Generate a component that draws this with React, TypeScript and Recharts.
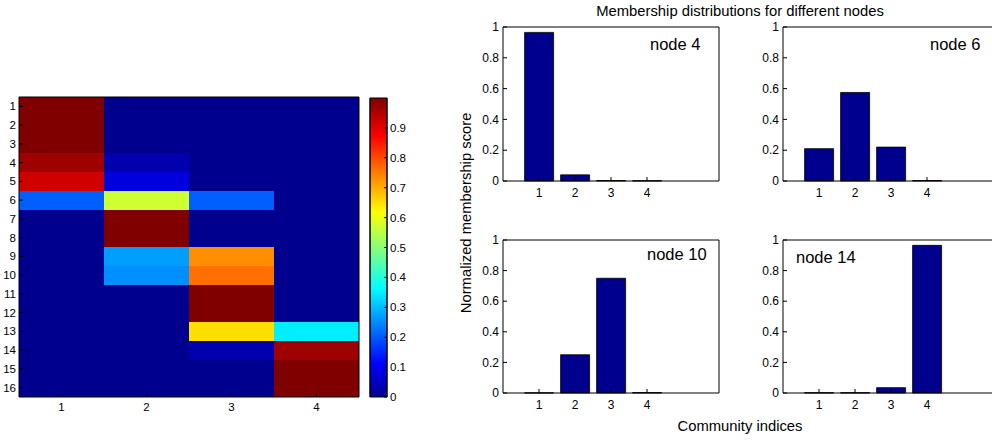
import React from "react";
import { Bar, BarChart, Cell, XAxis, YAxis } from "recharts";

const FONT = '"Liberation Sans", Arial, Helvetica, sans-serif';

// heatmap: rows = nodes, columns = communities
const communities = [1, 2, 3, 4];
const nodes = [1, 2, 3, 4, 5, 6, 7, 8, 9, 10, 11, 12, 13, 14, 15, 16];
const membership = [
  [1, 0, 0, 0],
  [1, 0, 0, 0],
  [1, 0, 0, 0],
  [0.96, 0.04, 0, 0],
  [0.92, 0.08, 0, 0],
  [0.21, 0.575, 0.215, 0],
  [0, 1, 0, 0],
  [0, 1, 0, 0],
  [0, 0.27, 0.73, 0],
  [0, 0.25, 0.75, 0],
  [0, 0, 1, 0],
  [0, 0, 1, 0],
  [0, 0, 0.65, 0.35],
  [0, 0, 0.04, 0.96],
  [0, 0, 0, 1],
  [0, 0, 0, 1],
];
const colorbarRange = [0, 1];
const colorbarTicks = [0, 0.1, 0.2, 0.3, 0.4, 0.5, 0.6, 0.7, 0.8, 0.9];

// bar panels
const node4 = [0.965, 0.04, 0.003, 0.002];
const node6 = [0.21, 0.575, 0.22, 0.003];
const node10 = [0.001, 0.25, 0.75, 0.003];
const node14 = [0.002, 0.002, 0.035, 0.965];
const scoreTicks = [0, 0.2, 0.4, 0.6, 0.8, 1];
const communityDomain = [0, 6];

// matlab jet, 64 levels
function jet(v: number) {
  const k = Math.min(63, Math.max(0, Math.floor(v * 64)));
  const t = (k + 1) / 64;
  const c = (x: number) => Math.round(Math.max(0, Math.min(1, x)) * 255);
  return `rgb(${c(1.5 - Math.abs(4 * t - 3))},${c(1.5 - Math.abs(4 * t - 2))},${c(1.5 - Math.abs(4 * t - 1))})`;
}

const fmt = (v: number) => String(v);

// ticks point inward, like matlab's box
const leftTick = (margin: number, len: number, fontSize: number, label: (v: number) => string) => (p: any) => (
  <g>
    <line x1={p.x + margin} x2={p.x + margin + len} y1={p.y} y2={p.y} stroke="#000" />
    <text x={p.x} y={p.y} dy="0.35em" textAnchor="end" fontSize={fontSize} fill="#000" fontFamily={FONT}>
      {label(p.payload.value)}
    </text>
  </g>
);

const bottomTick = (margin: number, len: number, fontSize: number) => (p: any) => (
  <g>
    <line x1={p.x} x2={p.x} y1={p.y - margin} y2={p.y - margin - len} stroke="#000" />
    <text x={p.x} y={p.y + fontSize * 0.9} textAnchor="middle" fontSize={fontSize} fill="#000" fontFamily={FONT}>
      {p.payload.value}
    </text>
  </g>
);

const rightTick = (margin: number, len: number, fontSize: number) => (p: any) => (
  <g>
    <line x1={p.x - margin} x2={p.x - margin - len} y1={p.y} y2={p.y} stroke="#000" />
    <text x={p.x} y={p.y} dy="0.35em" textAnchor="start" fontSize={fontSize} fill="#000" fontFamily={FONT}>
      {fmt(p.payload.value)}
    </text>
  </g>
);

function Heatmap() {
  const data = communities.map((c) => {
    const row: Record<string, number> = { col: c };
    nodes.forEach((n) => {
      row[`n${n}`] = 1;
    });
    return row;
  });
  const rowTicks = nodes.map((n) => n - 0.5);
  return (
    <div style={{ position: "absolute", left: 0, top: 90 }}>
      <BarChart
        width={370}
        height={330}
        data={data}
        margin={{ top: 7, right: 11, bottom: 3, left: 0 }}
        barCategoryGap={0}
        barGap={0}
      >
        {nodes.map((n, i) => (
          <Bar key={n} dataKey={`n${n}`} stackId="h" isAnimationActive={false} shapeRendering="crispEdges">
            {communities.map((c, j) => (
              <Cell key={c} fill={jet(membership[i][j])} stroke="none" />
            ))}
          </Bar>
        ))}
        <XAxis dataKey="col" height={20} stroke="#000" tickLine={false} tickSize={0} tickMargin={4} tick={bottomTick(4, 4, 11.5)} />
        <XAxis xAxisId="top" dataKey="col" orientation="top" mirror height={1} tick={false} tickSize={4} stroke="#000" />
        <YAxis
          type="number"
          domain={[0, 16]}
          reversed
          ticks={rowTicks}
          width={19}
          stroke="#000"
          tickLine={false}
          tickSize={0}
          tickMargin={3}
          interval={0}
          tick={leftTick(3, 4, 11.5, (v) => String(v + 0.5))}
        />
        <YAxis
          yAxisId="right"
          type="number"
          orientation="right"
          mirror
          width={1}
          domain={[0, 16]}
          reversed
          ticks={rowTicks}
          interval={0}
          tick={false}
          tickSize={4}
          stroke="#000"
        />
      </BarChart>
    </div>
  );
}

function Colorbar() {
  const data = [{ name: "cb", top: colorbarRange[1] }];
  const stops = Array.from({ length: 64 }, (_, k) => k / 63);
  return (
    <div style={{ position: "absolute", left: 360, top: 90 }}>
      <BarChart width={50} height={320} data={data} margin={{ top: 8, right: 0, bottom: 13, left: 10 }} barCategoryGap={0}>
        <defs>
          <linearGradient id="jet-grad" x1="0" y1="1" x2="0" y2="0">
            {stops.map((s) => (
              <stop key={s} offset={s} stopColor={jet(s * 0.9999)} />
            ))}
          </linearGradient>
        </defs>
        <XAxis dataKey="name" hide />
        <Bar dataKey="top" fill="url(#jet-grad)" stroke="#000" strokeWidth={1} isAnimationActive={false} />
        <YAxis
          orientation="right"
          domain={colorbarRange}
          ticks={colorbarTicks}
          interval={0}
          width={23}
          stroke="#000"
          tickLine={false}
          tickSize={0}
          tickMargin={3}
          tick={rightTick(3, 3, 11.5)}
        />
        <YAxis yAxisId="l" orientation="left" mirror width={1} domain={colorbarRange} ticks={colorbarTicks} interval={0} tick={false} tickSize={3} stroke="#000" />
      </BarChart>
    </div>
  );
}

function NodePanel({ values, left, top, height }: { values: number[]; left: number; top: number; height: number }) {
  const data = communities.map((c, i) => ({ community: c, score: values[i] }));
  return (
    <div style={{ position: "absolute", left, top }}>
      <BarChart width={260} height={height} data={data} margin={{ top: 9, right: 11, bottom: 0, left: 0 }} barCategoryGap="10%">
        <Bar dataKey="score" fill="#00008f" stroke="#000" strokeWidth={0.8} isAnimationActive={false} />
        <XAxis
          type="number"
          dataKey="community"
          domain={communityDomain}
          ticks={communities}
          interval={0}
          height={27}
          stroke="#000"
          tickLine={false}
          tickSize={0}
          tickMargin={5}
          tick={bottomTick(5, 4, 12)}
        />
        <XAxis
          xAxisId="top"
          type="number"
          dataKey="community"
          orientation="top"
          mirror
          height={1}
          domain={communityDomain}
          ticks={communities}
          interval={0}
          tick={false}
          tickSize={4}
          stroke="#000"
        />
        <YAxis
          domain={[0, 1]}
          ticks={scoreTicks}
          interval={0}
          width={33}
          stroke="#000"
          tickLine={false}
          tickSize={0}
          tickMargin={4}
          tick={leftTick(4, 4, 12, fmt)}
        />
        <YAxis
          yAxisId="right"
          orientation="right"
          mirror
          width={1}
          domain={[0, 1]}
          ticks={scoreTicks}
          interval={0}
          tick={false}
          tickSize={4}
          stroke="#000"
        />
      </BarChart>
    </div>
  );
}

const txt = (left: number, top: number, size: number, s: string, extra: React.CSSProperties = {}) => (
  <div style={{ position: "absolute", left, top, fontSize: size, lineHeight: `${size + 3}px`, whiteSpace: "nowrap", ...extra }}>{s}</div>
);

export default function App() {
  return (
    <div
      style={{
        position: "absolute",
        left: 0,
        top: 0,
        width: 992,
        height: 440,
        overflow: "hidden",
        background: "#fff",
        fontFamily: FONT,
        color: "#000",
      }}
    >
      <Heatmap />
      <Colorbar />
      <NodePanel values={node4} left={470} top={18} height={190} />
      <NodePanel values={node6} left={750} top={18} height={190} />
      <NodePanel values={node10} left={470} top={231} height={189} />
      <NodePanel values={node14} left={750} top={231} height={189} />
      {txt(540, 3, 14.8, "Membership distributions for different nodes", { width: 400, textAlign: "center" })}
      {txt(340, 204, 14.8, "Normalized membership score", { width: 254, textAlign: "center", transform: "rotate(-90deg)" })}
      {txt(540, 418, 14.8, "Community indices", { width: 400, textAlign: "center" })}
      {txt(650, 35, 16.5, "node 4")}
      {txt(930, 35, 16.5, "node 6")}
      {txt(647, 245, 16.5, "node 10")}
      {txt(796, 248, 16.5, "node 14")}
    </div>
  );
}
